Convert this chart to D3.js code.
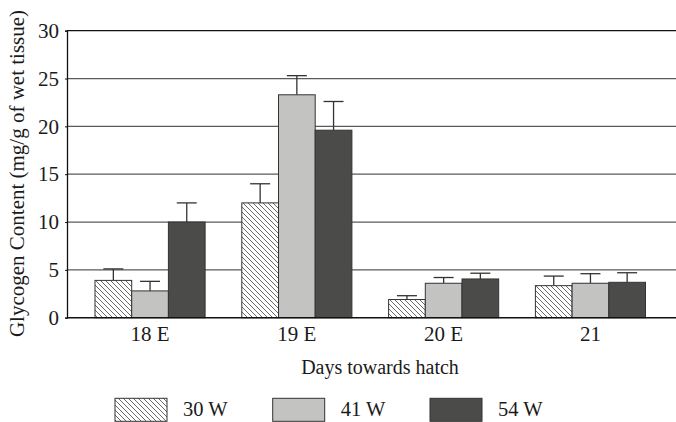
<!DOCTYPE html>
<html>
<head>
<meta charset="utf-8">
<script src="https://cdn.jsdelivr.net/npm/d3@7"></script>
<style>
html,body{margin:0;padding:0;background:#fff;}
svg{display:block;}
text{font-family:"Liberation Serif","Times New Roman",serif;fill:#1a1a1a;}
</style>
</head>
<body>
<svg id="chart" width="676" height="422"></svg>
<script>
const categories = ["18 E", "19 E", "20 E", "21"];
const seriesNames = ["30 W", "41 W", "54 W"];
const values30W = [3.9, 12.0, 1.9, 3.35];
const values41W = [2.8, 23.3, 3.6, 3.6];
const values54W = [10.0, 19.6, 4.05, 3.7];
const errors30W = [1.2, 2.0, 0.4, 1.0];
const errors41W = [1.0, 2.0, 0.6, 1.0];
const errors54W = [2.0, 3.0, 0.6, 1.0];
const yTicks = [0, 5, 10, 15, 20, 25, 30];
const yTitle = "Glycogen Content (mg/g of wet tissue)";
const xTitle = "Days towards hatch";

const seriesVals = [values30W, values41W, values54W];
const seriesErr = [errors30W, errors41W, errors54W];
const fills = ["url(#hatch)", "#c3c4c2", "#4b4b4a"];

const svg = d3.select("#chart");
const plotL = 67, plotR = 676, plotT = 30.7, plotB = 317.7;

const defs = svg.append("defs");
const pat = defs.append("pattern").attr("id", "hatch")
  .attr("patternUnits", "userSpaceOnUse").attr("width", 5).attr("height", 5);
pat.append("rect").attr("width", 5).attr("height", 5).attr("fill", "#fff");
pat.append("path").attr("d", "M-1,-1 L6,6 M-1,4 L1,6 M4,-1 L6,1")
  .attr("stroke", "#444").attr("stroke-width", 0.8);

const y = d3.scaleLinear().domain([0, 30]).range([plotB, plotT]);
const x = d3.scaleBand().domain(categories).range([76.65, 663.85])
  .paddingInner(0.25).paddingOuter(0.125);
const xs = d3.scaleBand().domain(seriesNames).range([0, x.bandwidth()]);

// gridlines
svg.append("g").selectAll("line").data(yTicks.filter(t => t > 0 && t < 30)).join("line")
  .attr("x1", plotL).attr("x2", plotR)
  .attr("y1", d => y(d)).attr("y2", d => y(d))
  .attr("stroke", "#5a5a5a").attr("stroke-width", 1.3);
svg.append("line").attr("x1", plotL).attr("x2", plotR)
  .attr("y1", y(30)).attr("y2", y(30)).attr("stroke", "#111").attr("stroke-width", 1.3);

// error bars (behind bars)
const eg = svg.append("g");
seriesNames.forEach((s, si) => {
  categories.forEach((c, ci) => {
    const cx = x(c) + xs(s) + xs.bandwidth() / 2;
    const top = seriesVals[si][ci] + seriesErr[si][ci];
    eg.append("line").attr("x1", cx).attr("x2", cx)
      .attr("y1", y(seriesVals[si][ci])).attr("y2", y(top))
      .attr("stroke", "#333").attr("stroke-width", 1.3);
    eg.append("line").attr("x1", cx - 10).attr("x2", cx + 10)
      .attr("y1", y(top)).attr("y2", y(top))
      .attr("stroke", "#333").attr("stroke-width", 1.3);
  });
});

// bars
const bg = svg.append("g");
seriesNames.forEach((s, si) => {
  bg.selectAll(null).data(categories).join("rect")
    .attr("x", c => x(c) + xs(s))
    .attr("y", (c, ci) => y(seriesVals[si][ci]))
    .attr("width", xs.bandwidth())
    .attr("height", (c, ci) => plotB - y(seriesVals[si][ci]))
    .attr("fill", fills[si])
    .attr("stroke", "#333").attr("stroke-width", 1);
});

// axes
const yAxis = svg.append("g").attr("transform", `translate(${plotL},0)`)
  .call(d3.axisLeft(y).tickValues(yTicks).tickSize(2).tickPadding(6));
yAxis.select(".domain").attr("stroke", "#111").attr("stroke-width", 1.3);
yAxis.selectAll(".tick line").attr("stroke", "#111");
yAxis.selectAll("text").style("font-family", '"Liberation Serif",serif')
  .style("font-size", "21px").attr("fill", "#1a1a1a");

svg.append("line").attr("x1", plotL).attr("x2", plotR)
  .attr("y1", plotB).attr("y2", plotB).attr("stroke", "#111").attr("stroke-width", 1.5);

const xAxis = svg.append("g").attr("transform", `translate(0,${plotB})`)
  .call(d3.axisBottom(x).tickSize(0).tickPadding(0));
xAxis.select(".domain").remove();
xAxis.selectAll("text").attr("dy", null).attr("y", 23)
  .style("font-family", '"Liberation Serif",serif').style("font-size", "21px").attr("fill", "#1a1a1a");

svg.append("text").attr("x", 380).attr("y", 374).attr("text-anchor", "middle")
  .style("font-size", "20px").text(xTitle);

svg.append("text").attr("transform", "translate(24,173.5) rotate(-90)")
  .attr("text-anchor", "middle").style("font-size", "21px").text(yTitle);

// legend
const legX = [115, 272.7, 430];
const lg = svg.append("g");
seriesNames.forEach((s, si) => {
  lg.append("rect").attr("x", legX[si]).attr("y", 398.3).attr("width", 52).attr("height", 23)
    .attr("fill", fills[si]).attr("stroke", "#333").attr("stroke-width", 1);
  lg.append("text").attr("x", legX[si] + 68).attr("y", 416).style("font-size", "20.5px").text(s);
});
</script>
</body>
</html>
